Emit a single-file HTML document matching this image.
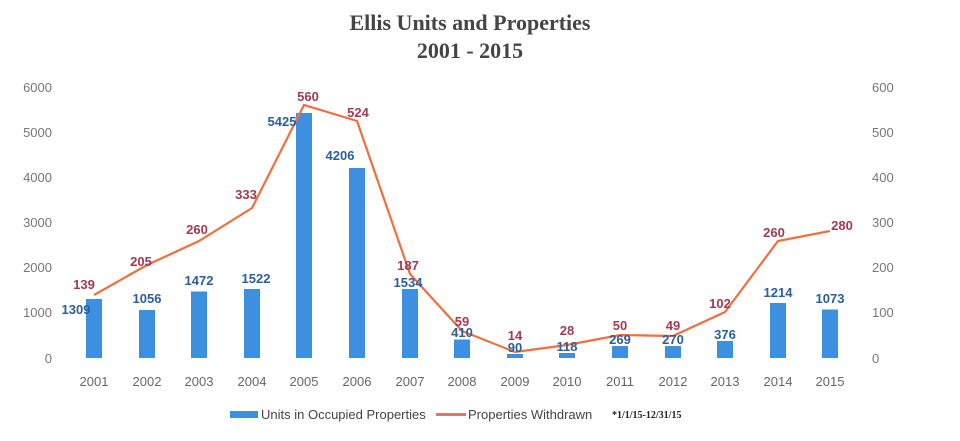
<!DOCTYPE html>
<html><head><style>
body{margin:0;background:#fff;width:960px;height:436px;overflow:hidden}
text{font-family:"Liberation Sans",sans-serif}
</style></head><body>
<svg width="960" height="436" xmlns="http://www.w3.org/2000/svg">
<text x="470" y="30" text-anchor="middle" font-weight="bold" font-size="22" fill="#444" style="font-family:'Liberation Serif',serif">Ellis Units and Properties</text>
<text x="470" y="58" text-anchor="middle" font-weight="bold" font-size="22" fill="#444" style="font-family:'Liberation Serif',serif">2001 - 2015</text>
<g font-size="13" fill="#777" text-anchor="end">
<text x="52" y="92">6000</text><text x="52" y="137">5000</text><text x="52" y="182">4000</text><text x="52" y="227">3000</text><text x="52" y="272">2000</text><text x="52" y="317">1000</text><text x="52" y="363">0</text>
</g>
<g font-size="13" fill="#777" text-anchor="start">
<text x="872" y="92">600</text><text x="872" y="137">500</text><text x="872" y="182">400</text><text x="872" y="227">300</text><text x="872" y="272">200</text><text x="872" y="317">100</text><text x="872" y="363">0</text>
</g>
<g fill="#3d8fe0">
<rect x="86" y="299" width="16" height="59"/>
<rect x="139" y="310" width="16" height="48"/>
<rect x="191" y="291.5" width="16" height="66.5"/>
<rect x="244" y="289" width="16" height="69"/>
<rect x="296" y="113" width="16" height="245"/>
<rect x="349" y="168" width="16" height="190"/>
<rect x="402" y="289" width="16" height="69"/>
<rect x="454" y="339.5" width="16" height="18.5"/>
<rect x="507" y="354" width="16" height="4"/>
<rect x="559" y="353" width="16" height="5"/>
<rect x="612" y="346" width="16" height="12"/>
<rect x="665" y="346" width="16" height="12"/>
<rect x="717" y="341" width="16" height="17"/>
<rect x="770" y="303" width="16" height="55"/>
<rect x="822" y="309.5" width="16" height="48.5"/>
</g>
<polyline fill="none" stroke="#ef6f3e" stroke-width="2.2" points="94,295 147,265 199,241 252,208 304,105 357,121 410,274 462,331 515,352 567,345 620,335 673,336 725,312 778,241 830,231"/>
<g font-size="13" font-weight="bold" fill="#2a5f9e" text-anchor="middle">
<text x="76" y="314">1309</text><text x="147" y="303">1056</text><text x="199" y="285">1472</text><text x="256" y="283">1522</text><text x="282" y="126">5425</text><text x="340" y="160">4206</text><text x="408" y="287">1534</text><text x="462" y="337">410</text><text x="515" y="352">90</text><text x="567" y="351">118</text><text x="620" y="344">269</text><text x="673" y="344">270</text><text x="725" y="339">376</text><text x="778" y="297">1214</text><text x="830" y="303">1073</text>
</g>
<g font-size="13" font-weight="bold" fill="#a33a55" text-anchor="middle">
<text x="84" y="289">139</text><text x="141" y="266">205</text><text x="197" y="234">260</text><text x="246" y="199">333</text><text x="308" y="101">560</text><text x="358" y="117">524</text><text x="408" y="270">187</text><text x="462" y="326">59</text><text x="515" y="340">14</text><text x="567" y="335">28</text><text x="620" y="330">50</text><text x="673" y="330">49</text><text x="720" y="308">102</text><text x="774" y="237">260</text><text x="842" y="230">280</text>
</g>
<g font-size="13" fill="#666" text-anchor="middle">
<text x="94" y="386">2001</text><text x="147" y="386">2002</text><text x="199" y="386">2003</text><text x="252" y="386">2004</text><text x="304" y="386">2005</text><text x="357" y="386">2006</text><text x="410" y="386">2007</text><text x="462" y="386">2008</text><text x="515" y="386">2009</text><text x="567" y="386">2010</text><text x="620" y="386">2011</text><text x="673" y="386">2012</text><text x="725" y="386">2013</text><text x="778" y="386">2014</text><text x="830" y="386">2015</text>
</g>
<rect x="230" y="411" width="28" height="7" fill="#3d8fe0"/>
<text x="261" y="419" font-size="13" fill="#444">Units in Occupied Properties</text>
<rect x="436" y="413" width="30" height="3" fill="#ef6f6f"/>
<text x="468" y="419" font-size="13" fill="#444">Properties Withdrawn</text>
<text x="612" y="418" font-size="10" font-weight="bold" fill="#222" style="font-family:'Liberation Serif',serif">*1/1/15-12/31/15</text>
</svg>
</body></html>
